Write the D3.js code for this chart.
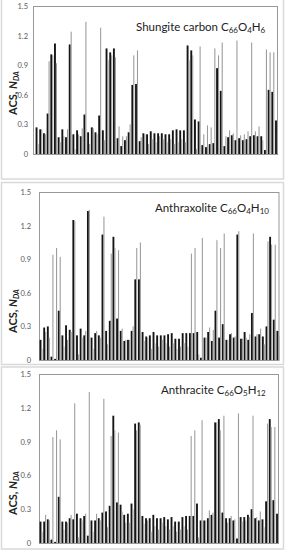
<!DOCTYPE html>
<html>
<head>
<meta charset="utf-8">
<script src="https://cdnjs.cloudflare.com/ajax/libs/d3/7.8.5/d3.min.js"></script>
<style>
body{margin:0;background:#fff}
svg{display:block}
text{font-family:Lato,"Open Sans",sans-serif}
</style>
</head>
<body>
<svg id="chart"></svg>
<script>
// atom numbers along the C66 cage
var atoms = d3.range(1, 67)

// gray thin bars: same reference set in every panel
var pristine = [0.10,0.25,0.20,0.94,1.00,0.92,0.12,0.18,0.25,1.24,
                0.05,0.20,0.26,1.34,0.10,0.26,0.20,1.28,0.14,0.95,
                1.00,0.98,0.28,0.18,0.18,0.30,1.00,1.05,0.17,0.20,
                0.10,0.15,0.12,0.18,0.15,0.12,0.15,0.10,0.12,0.15,
                0.12,0.95,1.00,0.05,1.09,0.20,0.29,0.27,1.07,1.00,
                1.13,0.18,0.24,0.21,1.15,0.19,0.20,0.23,1.13,0.23,
                0.28,0.14,1.06,1.03,1.03,0.21]

var shungite = [0.27,0.25,0.21,0.41,1.01,1.12,0.17,0.25,0.17,1.11,
                0.20,0.24,0.18,0.40,0.22,0.27,0.22,0.39,0.24,1.07,
                1.03,1.07,0.16,0.08,0.14,0.22,0.70,0.71,0.13,0.21,
                0.20,0.23,0.21,0.21,0.21,0.20,0.20,0.24,0.25,0.24,
                0.24,1.10,1.05,0.35,0.33,0.09,0.07,0.10,0.11,0.87,
                0.64,0.08,0.17,0.19,0.14,0.16,0.14,0.15,0.18,0.19,
                0.18,0.18,0.04,0.65,0.63,0.34]

var anthraxolite = [0.18,0.29,0.30,0.03,0.01,0.44,0.22,0.31,0.27,1.25,
                    0.22,0.28,0.22,1.33,0.20,0.24,0.22,1.12,0.26,0.35,
                    1.10,0.37,0.26,0.17,0.18,0.26,0.72,0.72,0.25,0.21,
                    0.22,0.25,0.22,0.22,0.22,0.23,0.24,0.19,0.19,0.24,
                    0.24,0.24,0.24,0.25,0.02,0.20,0.25,0.17,0.44,0.20,
                    0.32,0.18,0.23,0.20,1.12,0.19,0.25,0.18,0.42,0.21,
                    0.23,0.21,0.30,1.10,0.36,0.26]

var anthracite = [0.19,0.19,0.21,0.03,0.01,0.41,0.19,0.19,0.22,0.21,
                  0.26,0.22,0.24,0.065,0.20,0.20,0.22,0.27,0.28,0.33,
                  1.13,0.36,0.34,0.25,0.26,0.35,1.06,1.07,0.24,0.22,
                  0.22,0.25,0.22,0.22,0.23,0.21,0.23,0.19,0.19,0.23,
                  0.24,0.24,0.24,0.35,0.20,0.20,0.22,0.25,1.07,1.10,
                  0.27,0.22,0.22,0.20,0.04,0.23,0.23,0.25,0.30,0.22,
                  0.20,0.21,0.37,1.10,0.38,0.26]

var yTicks = [0, 0.3, 0.6, 0.9, 1.2, 1.5]

// title pieces: [text, isSubscript]
var titles = [
    [["Shungite carbon C",0],["66",1],["O",0],["4",1],["H",0],["6",1]],
    [["Anthraxolite C",0],["66",1],["O",0],["4",1],["H",0],["10",1]],
    [["Anthracite C",0],["66",1],["O",0],["5",1],["H",0],["12",1]]
]

var width = 286
var height = 550

var svg = d3.select("#chart")
    .attr("width", width)
    .attr("height", height)

var panels = [
    {values: shungite, title: titles[0],
     frame: {x:1.5, y:-1, w:282, h:180},
     plot: {l:33, r:278, t:6, b:154}, bars: [35.6, 278],
     tickX: 28, titleX: 136, titleY: 31, axisTitleY: 93},
    {values: anthraxolite, title: titles[1],
     frame: {x:1.5, y:182.5, w:282, h:182},
     plot: {l:39, r:279.5, t:192, b:360}, bars: [39.6, 279.4],
     tickX: 31, titleX: 155, titleY: 212, axisTitleY: 311},
    {values: anthracite, title: titles[2],
     frame: {x:1.5, y:367, w:282, h:182},
     plot: {l:39, r:279, t:374, b:543}, bars: [39.6, 279],
     tickX: 31, titleX: 161, titleY: 394, axisTitleY: 493}
]

var drawPanel = function(p)
{
    var g = svg.append("g")

    g.append("rect")
        .attr("x", p.frame.x)
        .attr("y", p.frame.y)
        .attr("width", p.frame.w)
        .attr("height", p.frame.h)
        .attr("fill", "none")
        .attr("stroke", "#d9d9d9")
        .attr("stroke-width", 1.5)

    var xScale = d3.scaleBand()
        .domain(atoms)
        .range(p.bars)
        .paddingInner(0.2)
        .paddingOuter(0)

    var yScale = d3.scaleLinear()
        .domain([0, 1.5])
        .range([p.plot.b, p.plot.t])

    var bw = xScale.bandwidth()
    var blackW = bw * 0.64

    g.append("rect")
        .attr("x", p.plot.l + 0.5)
        .attr("y", p.plot.t + 0.5)
        .attr("width", p.plot.r - p.plot.l - 1)
        .attr("height", p.plot.b - p.plot.t)
        .attr("fill", "none")
        .attr("stroke", "#999")
        .attr("stroke-width", 1)

    // black bars (sample)
    g.selectAll("rect.sample")
        .data(p.values)
        .enter()
        .append("rect")
        .attr("class", "sample")
        .attr("x", function(d, i) { return xScale(atoms[i]) })
        .attr("y", function(d) { return yScale(d) })
        .attr("width", blackW)
        .attr("height", function(d) { return p.plot.b - yScale(d) })
        .attr("fill", "#151515")

    // gray bars (reference)
    g.selectAll("rect.ref")
        .data(pristine)
        .enter()
        .append("rect")
        .attr("class", "ref")
        .attr("x", function(d, i) { return xScale(atoms[i]) + blackW })
        .attr("y", function(d) { return yScale(d) })
        .attr("width", bw - blackW)
        .attr("height", function(d) { return p.plot.b - yScale(d) })
        .attr("fill", "#9a9a9a")

    var yAxis = d3.axisLeft(yScale)
        .tickValues(yTicks)
        .tickSize(0)
        .tickPadding(0)
        .tickFormat(function(d) { return d === 0 ? "0" : d.toFixed(1) })

    var ax = g.append("g")
        .attr("transform", "translate(" + p.tickX + ",0)")
        .call(yAxis)
    ax.select(".domain").remove()
    ax.selectAll("text")
        .attr("font-size", 7.5)
        .attr("font-family", "Lato, sans-serif")
        .attr("fill", "#595959")

    var at = g.append("text")
        .attr("transform", "translate(17," + p.axisTitleY + ") rotate(-90)")
        .attr("text-anchor", "middle")
        .attr("font-size", 11)
        .attr("font-weight", "bold")
        .attr("fill", "#222")
    at.append("tspan").text("ACS, ")
    at.append("tspan").attr("font-style", "italic").text("N")
    at.append("tspan").attr("font-style", "italic").attr("font-size", 7.5)
        .attr("dy", 2).text("DA")

    var t = g.append("text")
        .attr("x", p.titleX)
        .attr("y", p.titleY)
        .attr("font-size", 11.5)
        .attr("fill", "#222")
    p.title.forEach(function(piece, k)
    {
        var prev = k > 0 ? p.title[k-1][1] : 0
        var dy = piece[1] && !prev ? 2 : (!piece[1] && prev ? -2 : 0)
        t.append("tspan")
            .attr("dy", dy)
            .attr("font-size", piece[1] ? 8 : 11.5)
            .text(piece[0])
    })
}

panels.forEach(drawPanel)
</script>
</body>
</html>
